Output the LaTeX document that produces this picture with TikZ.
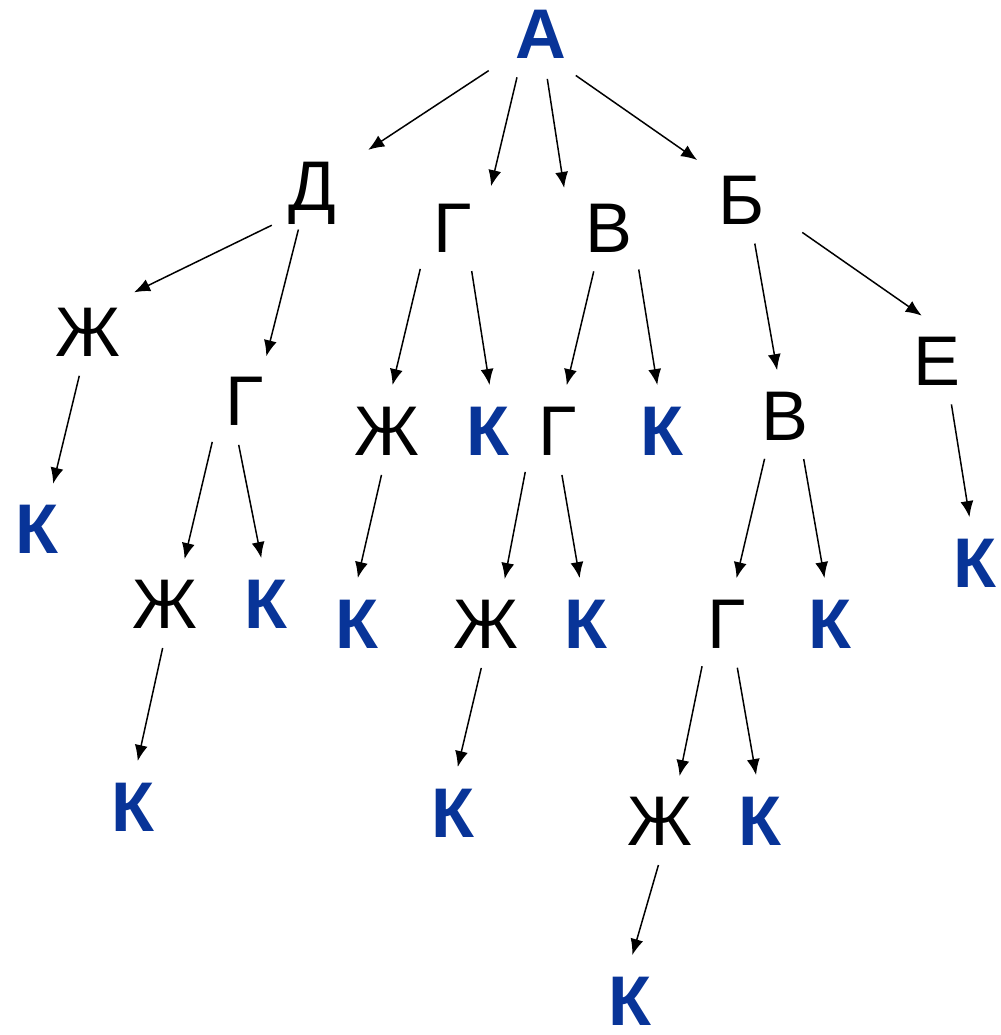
\documentclass[tikz,border=0pt]{standalone}
\usepackage{fontspec}
\setmainfont{Liberation Sans}
\usetikzlibrary{arrows.meta,shapes.geometric}
\definecolor{letterblue}{RGB}{8,52,152}
\tikzset{
  letter/.style={ellipse,inner sep=0pt,outer sep=0pt,minimum width=3.6cm,minimum height=1.8cm,
    text height=1cm,text depth=0pt,font=\fontsize{40}{40}\selectfont},
  blueletter/.style={letter,text=letterblue,font=\fontsize{40}{40}\selectfont\bfseries},
  link/.style={-{Latex[length=0.32cm,width=0.26cm]},line width=0.85pt}
}
\begin{document}
\begin{tikzpicture}[x=0.2mm,y=-0.2mm]
\useasboundingbox(0,0)rectangle(1000,1035);
% level 0
\node[blueletter](a)at(541,34){А};
% level 1
\node[letter](d)at(312,185){Д};
\node[letter](g1)at(453,227){Г};
\node[letter](v1)at(609,227){В};
\node[letter](b)at(742,199){Б};
% level 2
\node[letter](zh1)at(88,331){Ж};
\node[letter](g2)at(245,400){Г};
\node[letter](zh2)at(387,430){Ж};
\node[blueletter](k1)at(488,430){К};
\node[letter](g3)at(558,430){Г};
\node[blueletter](k2)at(662,430){К};
\node[letter](v2)at(785,415){В};
\node[letter](e)at(937,360){Е};
% level 3
\node[blueletter](k3)at(37,528){К};
\node[letter](zh3)at(165,603){Ж};
\node[blueletter](k4)at(266,603){К};
\node[blueletter](k5)at(357,623){К};
\node[letter](zh4)at(486,623){Ж};
\node[blueletter](k6)at(586,623){К};
\node[letter](g4)at(727,623){Г};
\node[blueletter](k7)at(830,623){К};
\node[blueletter](k8)at(975,562){К};
% level 4
\node[blueletter](k9)at(133,806){К};
\node[blueletter](k10)at(453,812){К};
\node[letter](zh5)at(660,820){Ж};
\node[blueletter](k11)at(760,820){К};
% level 5
\node[blueletter](k12)at(630,1000){К};
% arrows
\draw[link](a.215)--(d.32);
\draw[link](a.241)--(g1.47);
\draw[link](a.278)--(v1.139);
\draw[link](a.310)--(b.139);
\draw[link](d.225)--(zh1.40);
\draw[link](d.253)--(g2.64);
\draw[link](g1.232)--(zh2.83);
\draw[link](g1.293)--(k1.88);
\draw[link](v1.251)--(g3.79);
\draw[link](v1.305)--(k2.96);
\draw[link](b.286)--(v2.100);
\draw[link](b.331)--(e.109);
\draw[link](zh1.259)--(k3.70);
\draw[link](g2.232)--(zh3.66);
\draw[link](g2.262)--(k4.96);
\draw[link](zh2.263)--(k5.89);
\draw[link](g3.232)--(zh4.67);
\draw[link](g3.275)--(k6.98);
\draw[link](v2.245)--(g4.78);
\draw[link](v2.293)--(k7.97);
\draw[link](e.288)--(k8.97);
\draw[link](zh3.267)--(k9.84);
\draw[link](zh4.264)--(k10.84);
\draw[link](g4.240)--(zh5.66);
\draw[link](g4.283)--(k11.95);
\draw[link](zh5.268)--(k12.87);
\end{tikzpicture}
\end{document}
